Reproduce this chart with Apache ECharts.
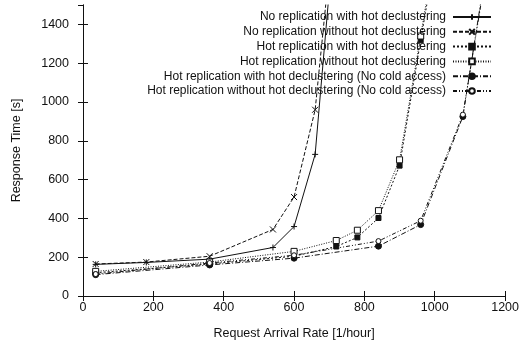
<!DOCTYPE html>
<html>
<head>
<meta charset="utf-8">
<script src="https://cdn.jsdelivr.net/npm/echarts@6/dist/echarts.min.js"></script>
<style>
  html, body { margin: 0; padding: 0; background: #fff; }
  #chart { width: 522px; height: 345px; }
</style>
</head>
<body>
<div id="chart"></div>
<script>
// Request arrival rates (1/hour) for each group of runs
const ratesNoRep = [36, 180, 360, 540, 600, 660, 720];
const ratesHotRep = [36, 360, 600, 720, 780, 840, 900, 960, 1020];
const ratesNoCold = [36, 360, 600, 840, 960, 1080, 1140];

// Response times (s)
const noRepWithHot = [163, 173, 190, 250, 358, 730, 1990];
const noRepWithoutHot = [165, 175, 205, 343, 510, 960, 2040];
const hotRepWithHot = [120, 165, 205, 255, 302, 402, 672, 1318, 1950];
const hotRepWithoutHot = [127, 175, 230, 286, 339, 440, 702, 1340, 2000];
const hotRepWithHotNoCold = [110, 160, 195, 257, 368, 925, 1620];
const hotRepWithoutHotNoCold = [113, 170, 210, 283, 388, 935, 1600];

const seriesNames = [
  'No replication with hot declustering',
  'No replication without hot declustering',
  'Hot replication with hot declustering',
  'Hot replication without hot declustering',
  'Hot replication with hot declustering (No cold access)',
  'Hot replication without hot declustering (No cold access)'
];

const xTicks = [0, 200, 400, 600, 800, 1000, 1200];
const yTicks = [0, 200, 400, 600, 800, 1000, 1200, 1400];

const FONT = '"Liberation Sans", Arial, Helvetica, sans-serif';
const INK = '#111';

function pairs(xs, ys) {
  return xs.map((x, i) => [x, ys[i]]);
}

const plusPath = 'path://M0,5L10,5M5,0L5,10';
const crossPath = 'path://M0,0L10,10M10,0L0,10';

function lineSeries(name, xs, ys, dash, symbol, size, fill) {
  return {
    name: name,
    type: 'line',
    data: pairs(xs, ys),
    symbol: symbol,
    symbolSize: size,
    showAllSymbol: true,
    clip: true,
    lineStyle: { color: INK, width: 1, type: dash },
    itemStyle: { color: fill, borderColor: INK, borderWidth: 1 },
    emphasis: { disabled: true },
    animation: false
  };
}

const chart = echarts.init(document.getElementById('chart'), null, { renderer: 'canvas' });

const axisCommon = {
  axisLine: { show: true, lineStyle: { color: INK, width: 1 } },
  axisTick: { show: true, inside: true, length: 5, lineStyle: { color: INK } },
  splitLine: { show: false }
};

chart.setOption({
  animation: false,
  backgroundColor: '#fff',
  textStyle: { fontFamily: FONT, color: INK },
  grid: { left: 83, right: 13, top: 5, bottom: 48, containLabel: false },
  legend: {
    show: true,
    orient: 'vertical',
    right: 25,
    top: 5,
    align: 'right',
    itemWidth: 38,
    itemHeight: 7,
    itemGap: 0.8,
    selectedMode: false,
    data: seriesNames,
    textStyle: { fontFamily: FONT, fontSize: 12, lineHeight: 14, color: INK, padding: [0, 2, 0, 0] }
  },
  xAxis: [
    Object.assign({
      type: 'value', min: 0, max: 1200, interval: 200,
      name: 'Request Arrival Rate [1/hour]',
      nameLocation: 'middle', nameGap: 31,
      nameTextStyle: { fontFamily: FONT, fontSize: 12.5, color: INK },
      axisLabel: {
        fontFamily: FONT, fontSize: 12.5, color: INK, margin: 5,
        formatter: v => (xTicks.indexOf(v) >= 0 ? String(v) : '')
      }
    }, axisCommon),
    Object.assign({
      type: 'value', min: 0, max: 1200, interval: 200, position: 'top',
      axisLabel: { show: false }
    }, axisCommon)
  ],
  yAxis: [
    Object.assign({
      type: 'value', min: 0, max: 1500, interval: 200,
      name: 'Response Time [s]',
      nameLocation: 'middle', nameGap: 60, nameRotate: 90,
      nameTextStyle: { fontFamily: FONT, fontSize: 12.5, color: INK },
      axisLabel: {
        fontFamily: FONT, fontSize: 12.5, color: INK, margin: 14,
        showMaxLabel: false,
        formatter: v => (yTicks.indexOf(v) >= 0 ? String(v) : '')
      }
    }, axisCommon),
    Object.assign({
      type: 'value', min: 0, max: 1500, interval: 200, position: 'right',
      axisLabel: { show: false }
    }, axisCommon)
  ],
  series: [
    lineSeries(seriesNames[0], ratesNoRep, noRepWithHot, 'solid', plusPath, 6, 'none'),
    lineSeries(seriesNames[1], ratesNoRep, noRepWithoutHot, [4, 2], crossPath, 6, 'none'),
    lineSeries(seriesNames[2], ratesHotRep, hotRepWithHot, [2, 2], 'rect', 5, INK),
    lineSeries(seriesNames[3], ratesHotRep, hotRepWithoutHot, [1, 1.5], 'rect', 6, '#fff'),
    lineSeries(seriesNames[4], ratesNoCold, hotRepWithHotNoCold, [5, 2, 1, 2], 'circle', 6, INK),
    lineSeries(seriesNames[5], ratesNoCold, hotRepWithoutHotNoCold, [4, 2, 1, 2, 1, 2], 'circle', 5, '#fff')
  ]
});
</script>
</body>
</html>
